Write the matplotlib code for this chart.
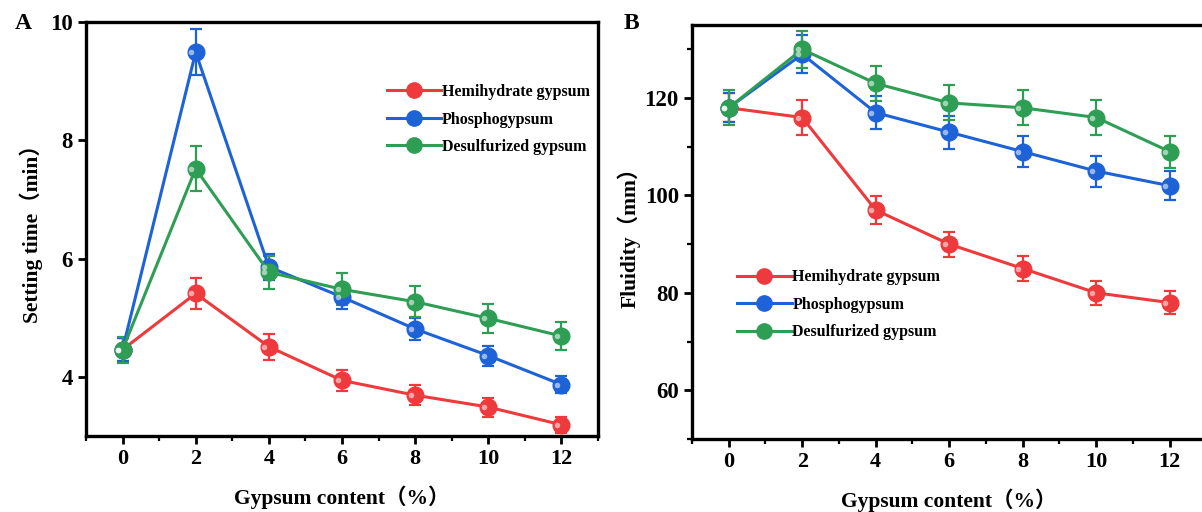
import matplotlib.pyplot as plt
from matplotlib.lines import Line2D
from matplotlib.ticker import MultipleLocator

plt.rcParams['font.family'] = ['Liberation Serif', 'Noto Sans CJK SC']
plt.rcParams['font.weight'] = 'bold'

content = [0, 2, 4, 6, 8, 10, 12]
series_names = ['Hemihydrate gypsum', 'Phosphogypsum', 'Desulfurized gypsum']
colors = ['#EE3A3C', '#1E62D8', '#2E9E55']

# panel A: setting time (min)
set_hemi = [4.46, 5.41, 4.51, 3.94, 3.69, 3.49, 3.19]
set_phos = [4.46, 9.49, 5.86, 5.35, 4.81, 4.36, 3.87]
set_desu = [4.46, 7.52, 5.77, 5.48, 5.27, 4.99, 4.69]
set_hemi_err = [0.20, 0.27, 0.22, 0.18, 0.17, 0.16, 0.14]
set_phos_err = [0.20, 0.39, 0.22, 0.20, 0.19, 0.17, 0.15]
set_desu_err = [0.22, 0.38, 0.28, 0.27, 0.26, 0.24, 0.23]

# panel B: fluidity (mm)
flu_hemi = [118, 116, 97, 90, 85, 80, 78]
flu_phos = [118, 129, 117, 113, 109, 105, 102]
flu_desu = [118, 130, 123, 119, 118, 116, 109]
flu_hemi_err = [3.0, 3.5, 2.9, 2.6, 2.6, 2.4, 2.3]
flu_phos_err = [3.0, 3.9, 3.4, 3.4, 3.2, 3.2, 3.0]
flu_desu_err = [3.6, 3.8, 3.6, 3.6, 3.6, 3.6, 3.3]


def draw_panel(ax, data, errs):
    for vals, err, col in zip(data, errs, colors):
        ax.errorbar(content, vals, yerr=err, color=col, lw=2.2, elinewidth=1.6,
                    capsize=4, capthick=1.6, marker='o', ms=12, mfc=col,
                    mec=col, zorder=3)
        # little highlight to mimic the shiny balls
        ax.plot([c - 0.12 for c in content], vals, ls='none', marker='o', ms=4,
                mfc='white', mec='none', alpha=0.55, zorder=4)
    ax.set_xlim(-1, 13)
    ax.xaxis.set_major_locator(MultipleLocator(2))
    ax.xaxis.set_minor_locator(MultipleLocator(1))
    for s in ax.spines.values():
        s.set_linewidth(2.4)
    ax.tick_params(axis='both', which='major', direction='out', length=6, width=2,
                   top=False, right=False)
    ax.tick_params(axis='x', which='major', labelsize=16)
    ax.tick_params(axis='y', which='major', labelsize=16.5)
    ax.tick_params(axis='both', which='minor', direction='out', length=3.5, width=1.6,
                   top=False, right=False)
    for lab in ax.get_xticklabels() + ax.get_yticklabels():
        lab.set_fontweight('bold')


def add_legend(ax, anchor):
    handles = [Line2D([], [], color=c, lw=2.2, marker='o', ms=11, mfc=c, mec=c)
               for c in colors]
    ax.legend(handles, series_names, loc='upper left', bbox_to_anchor=anchor,
              frameon=False, prop={'weight': 'bold', 'size': 11.5},
              handlelength=3.4, handletextpad=0.05, labelspacing=0.72)


fig = plt.figure(figsize=(12.02, 5.12), dpi=100)

axA = fig.add_axes([0.0715, 0.1484, 0.4260, 0.8086])
draw_panel(axA, [set_hemi, set_phos, set_desu],
           [set_hemi_err, set_phos_err, set_desu_err])
axA.set_ylim(3, 10)
axA.yaxis.set_major_locator(MultipleLocator(2))
axA.set_xlabel('Gypsum content（%）', fontsize=15.5, fontweight='bold', labelpad=12)
axA.set_ylabel('Setting time（min）', fontsize=15.5, fontweight='bold', labelpad=5)
add_legend(axA, (0.56, 0.885))

axB = fig.add_axes([0.5757, 0.1426, 0.4280, 0.8086])
draw_panel(axB, [flu_hemi, flu_phos, flu_desu],
           [flu_hemi_err, flu_phos_err, flu_desu_err])
axB.set_ylim(50, 135)
axB.yaxis.set_major_locator(MultipleLocator(20))
axB.yaxis.set_minor_locator(MultipleLocator(10))
axB.set_xlabel('Gypsum content（%）', fontsize=15.5, fontweight='bold', labelpad=12)
axB.set_ylabel('Fluidity（mm）', fontsize=15.5, fontweight='bold', labelpad=3)
add_legend(axB, (0.06, 0.445))

fig.text(0.012, 0.955, 'A', fontsize=17, fontweight='bold', va='center')
fig.text(0.519, 0.955, 'B', fontsize=17, fontweight='bold', va='center')

fig.savefig('out.png', dpi=100)
